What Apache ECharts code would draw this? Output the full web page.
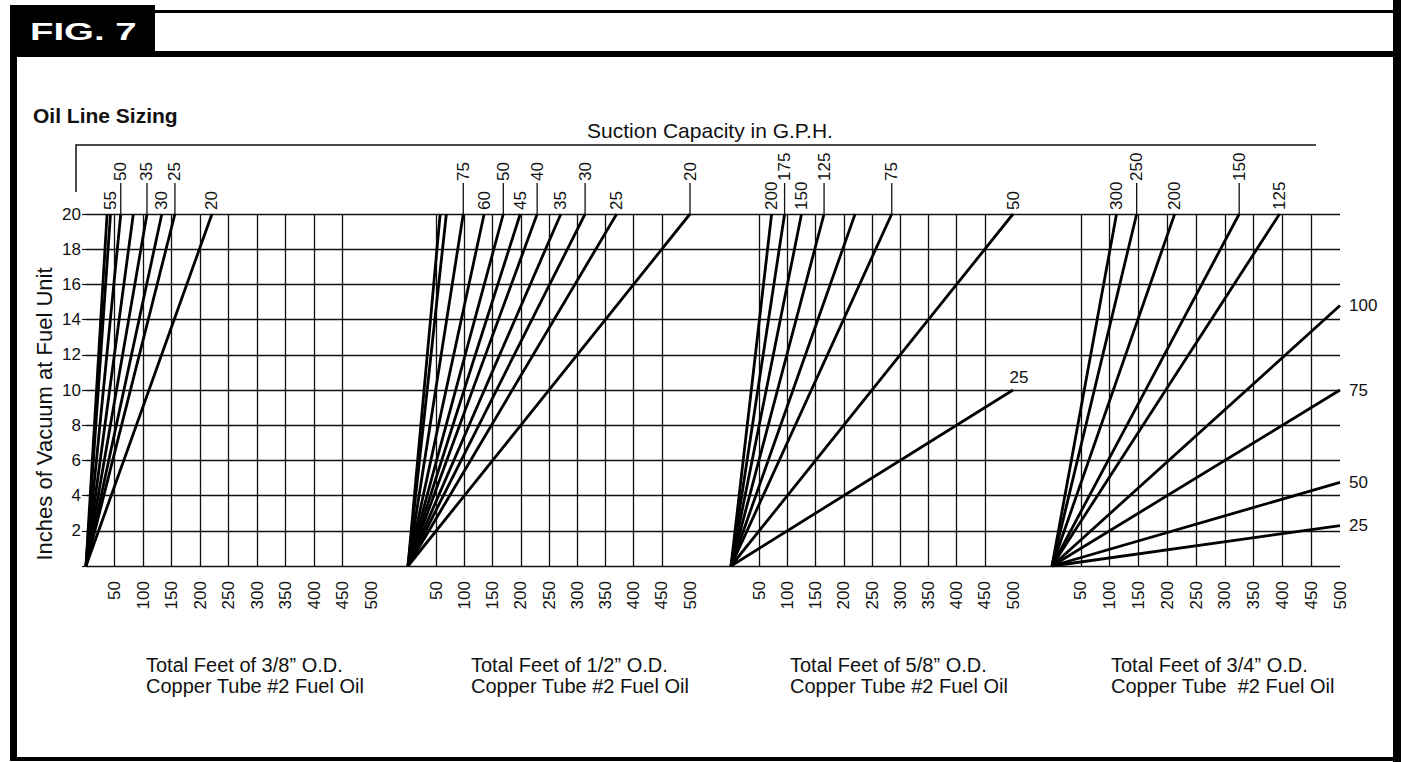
<!DOCTYPE html>
<html>
<head>
<meta charset="utf-8">
<script src="https://cdn.jsdelivr.net/npm/echarts@6/dist/echarts.min.js"></script>
<style>
html,body{margin:0;padding:0;background:#fff;}
#chart{width:1401px;height:762px;}
</style>
</head>
<body>
<div id="chart"></div>
<script>
// ================= DATA =================
const xTickLabels = [50, 100, 150, 200, 250, 300, 350, 400, 450, 500];
const yTickLabels = [2, 4, 6, 8, 10, 12, 14, 16, 18, 20];
const titleLine1 = ['Total Feet of 3/8\u201D O.D.', 'Total Feet of 1/2\u201D O.D.', 'Total Feet of 5/8\u201D O.D.', 'Total Feet of 3/4\u201D O.D.'];
const titleLine2 = ['Copper Tube #2 Fuel Oil', 'Copper Tube #2 Fuel Oil', 'Copper Tube #2 Fuel Oil', 'Copper Tube  #2 Fuel Oil'];

// Lines reaching 20 in. of vacuum: total feet of tube at 20 in.; G.P.H. label ('' = unlabeled line)
const p1Feet = [37, 43, 61, 83, 107, 133, 156, 221];
const p1Gph  = ['', '55', '50', '', '35', '30', '25', '20'];
const p2Feet = [57, 68, 98, 135, 169, 199, 229, 271, 314, 370, 500];
const p2Gph  = ['', '', '75', '60', '50', '45', '40', '35', '30', '25', '20'];
const p3Feet = [72, 95, 125, 165, 220, 285, 500];
const p3Gph  = ['200', '175', '150', '125', '', '75', '50'];
const p4Feet = [112, 147, 213, 325, 395];
const p4Gph  = ['300', '250', '200', '150', '125'];
// Lines reaching 500 ft: inches of vacuum at 500 ft
const p3EdgeVac = [10];
const p3EdgeGph = ['25'];
const p4EdgeVac = [14.8, 10, 4.75, 2.3];
const p4EdgeGph = ['100', '75', '50', '25'];
// Labels drawn with a leader line
const leaderGph = [['50', '35', '25'], ['75', '50', '40', '30', '20'], ['175', '125', '75'], ['250', '150']];

// ================= LAYOUT / STYLE =================
const FONT = '"Liberation Sans", Arial, Helvetica, sans-serif';
const INK = '#111';
const GRID_TOP = 214, GRID_H = 352;
const panels = [
  {left: 86,   width: 285, titleX: 146,  feet: p1Feet, gph: p1Gph, edgeVac: [], edgeGph: [], edgeMode: 'right'},
  {left: 408,  width: 282, titleX: 471,  feet: p2Feet, gph: p2Gph, edgeVac: [], edgeGph: [], edgeMode: 'right'},
  {left: 731,  width: 282, titleX: 790,  feet: p3Feet, gph: p3Gph, edgeVac: p3EdgeVac, edgeGph: p3EdgeGph, edgeMode: 'above'},
  {left: 1052, width: 288, titleX: 1111, feet: p4Feet, gph: p4Gph, edgeVac: p4EdgeVac, edgeGph: p4EdgeGph, edgeMode: 'right'}
];
const LEAD = 31;

const grids = [{left: 86, top: GRID_TOP, width: 1340 - 86, height: GRID_H}];
const xAxes = [{gridIndex: 0, type: 'value', min: 0, max: 1, show: false}];
const yAxes = [{
  gridIndex: 0, type: 'value', min: 0, max: 20, interval: 2,
  axisLine: {show: false},
  axisTick: {show: true, length: 4, lineStyle: {color: INK, width: 1.2}},
  axisLabel: {show: true, margin: 5, fontSize: 17, fontFamily: FONT, color: INK,
    formatter: v => yTickLabels.includes(v) ? String(v) : ''},
  splitLine: {show: true, lineStyle: {color: INK, width: 1.3}}
}];
const series = [];

panels.forEach((p, i) => {
  const gi = i + 1;
  grids.push({left: p.left, top: GRID_TOP, width: p.width, height: GRID_H});
  xAxes.push({
    gridIndex: gi, type: 'value', min: 0, max: 500, interval: 50,
    axisLine: {show: false}, axisTick: {show: false},
    axisLabel: {show: true, rotate: 90, margin: 15, fontSize: 17, fontFamily: FONT, color: INK,
      formatter: v => xTickLabels.includes(v) ? String(v) : ''},
    splitLine: {show: true, showMinLine: false, showMaxLine: false, lineStyle: {color: INK, width: 1.3}}
  });
  yAxes.push({gridIndex: gi, type: 'value', min: 0, max: 20, show: false});

  const labelItems = [];
  p.feet.forEach((f, k) => {
    series.push({
      type: 'line', xAxisIndex: gi, yAxisIndex: gi, data: [[0, 0], [f, 20]],
      symbol: 'none', silent: true, lineStyle: {color: '#000', width: 2.8}, z: 3
    });
    if (p.gph[k]) labelItems.push({x: f, y: 20, text: p.gph[k], mode: 'top', leader: leaderGph[i].includes(p.gph[k])});
  });
  p.edgeVac.forEach((v, k) => {
    series.push({
      type: 'line', xAxisIndex: gi, yAxisIndex: gi, data: [[0, 0], [500, v]],
      symbol: 'none', silent: true, lineStyle: {color: '#000', width: 2.8}, z: 3
    });
    labelItems.push({x: 500, y: v, text: p.edgeGph[k], mode: p.edgeMode, leader: false});
  });

  series.push({
    type: 'custom', coordinateSystem: 'cartesian2d', xAxisIndex: gi, yAxisIndex: gi,
    clip: false, silent: true, z: 5,
    data: labelItems.map(it => [it.x, it.y]),
    renderItem: (params, api) => {
      const it = labelItems[params.dataIndex];
      const pt = api.coord([api.value(0), api.value(1)]);
      const font = '17px ' + FONT;
      const children = [];
      if (it.mode === 'top') {
        let ty = pt[1] - 4;
        if (it.leader) {
          children.push({type: 'line', shape: {x1: pt[0], y1: pt[1], x2: pt[0], y2: pt[1] - LEAD},
            style: {stroke: INK, lineWidth: 1.3}});
          ty = pt[1] - LEAD - 2;
        }
        children.push({type: 'text', x: pt[0], y: ty, rotation: Math.PI / 2,
          style: {text: it.text, font: font, fill: INK, align: 'left', verticalAlign: 'middle'}});
      } else if (it.mode === 'right') {
        children.push({type: 'text', x: pt[0] + 9, y: pt[1],
          style: {text: it.text, font: font, fill: INK, align: 'left', verticalAlign: 'middle'}});
      } else {
        children.push({type: 'text', x: pt[0] + 6, y: pt[1] - 4,
          style: {text: it.text, font: font, fill: INK, align: 'center', verticalAlign: 'bottom'}});
      }
      return {type: 'group', children: children};
    }
  });
});

// ================= FRAME & TEXT =================
const graphic = [
  {type: 'rect', shape: {x: 10, y: 5, width: 7, height: 755}, style: {fill: '#000'}},
  {type: 'rect', shape: {x: 10, y: 5, width: 145, height: 50}, style: {fill: '#000'}},
  {type: 'rect', shape: {x: 155, y: 10, width: 1240, height: 3}, style: {fill: '#000'}},
  {type: 'rect', shape: {x: 10, y: 51, width: 1385, height: 6}, style: {fill: '#000'}},
  {type: 'rect', shape: {x: 1393, y: 0, width: 8, height: 762}, style: {fill: '#000'}},
  {type: 'rect', shape: {x: 10, y: 757, width: 1385, height: 4}, style: {fill: '#000'}},
  {type: 'text', x: 30, y: 32, scaleX: 1.6, style: {text: 'FIG. 7', font: 'bold 24px ' + FONT, fill: '#fff', align: 'left', verticalAlign: 'middle'}},
  {type: 'text', x: 33, y: 115, style: {text: 'Oil Line Sizing', font: 'bold 21px ' + FONT, fill: INK, align: 'left', verticalAlign: 'middle'}},
  {type: 'text', x: 710, y: 130, style: {text: 'Suction Capacity in G.P.H.', font: '21px ' + FONT, fill: INK, align: 'center', verticalAlign: 'middle'}},
  {type: 'polyline', shape: {points: [[76, 192], [76, 145], [1316, 145]]}, style: {stroke: INK, lineWidth: 1.5, fill: null}},
  {type: 'text', x: 44, y: 414, rotation: Math.PI / 2, style: {text: 'Inches of Vacuum at Fuel Unit', font: '22px ' + FONT, fill: INK, align: 'center', verticalAlign: 'middle'}}
];
panels.forEach((p, i) => {
  graphic.push({type: 'text', x: p.titleX, y: 654, style: {
    text: titleLine1[i] + '\n' + titleLine2[i], font: '20px ' + FONT, lineHeight: 21,
    fill: INK, align: 'left', verticalAlign: 'top'}});
});

const chart = echarts.init(document.getElementById('chart'), null, {renderer: 'svg'});
chart.setOption({
  animation: false,
  backgroundColor: '#fff',
  grid: grids,
  xAxis: xAxes,
  yAxis: yAxes,
  series: series,
  graphic: graphic
});
</script>
</body>
</html>
